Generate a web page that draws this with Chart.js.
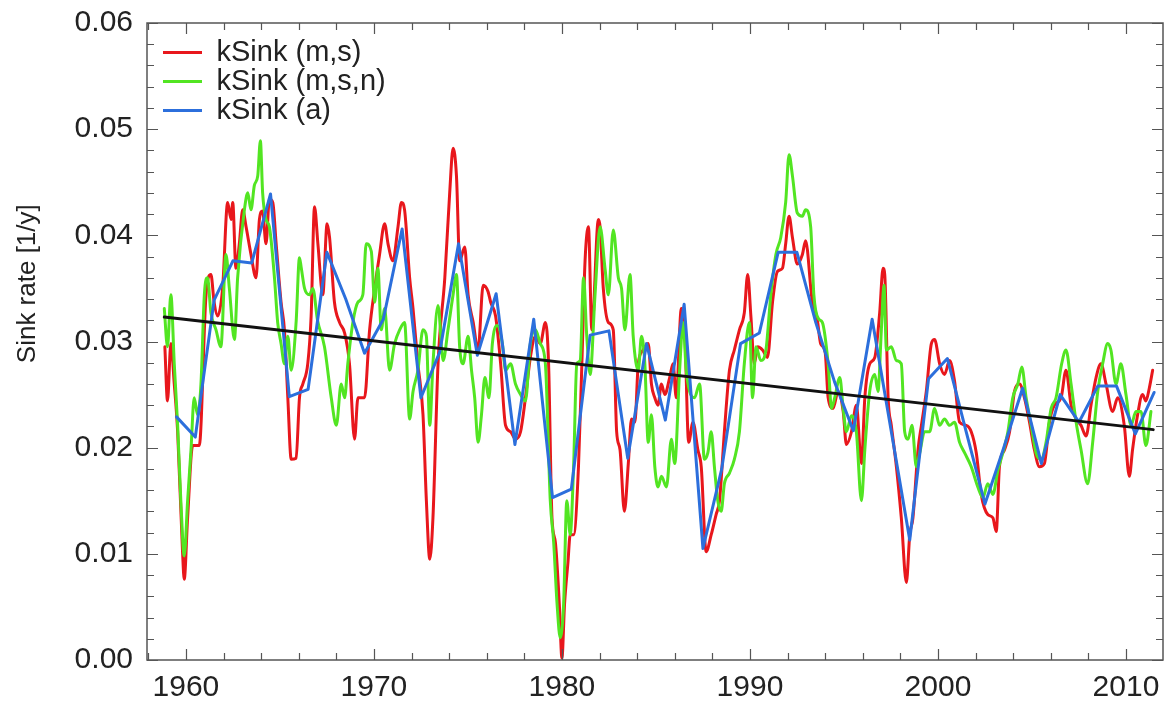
<!DOCTYPE html>
<html lang="en">
<head>
<meta charset="UTF-8">
<title>Sink rate</title>
<script src="https://cdn.jsdelivr.net/npm/chart.js"></script>
<style>
  body { margin: 0; background: #fff; }
  canvas { display: block; }
</style>
</head>
<body>
<canvas id="chart" width="1175" height="703"></canvas>
<script>
// kSink (m,s) - red
var msYears = [1958.88,1959.02,1959.2,1959.38,1959.56,1959.82,1959.91,1960.09,1960.36,1960.71,
  1961.07,1961.33,1961.5,1961.69,1961.95,1962.22,1962.4,1962.49,1962.66,1962.84,1963.02,1963.2,1963.46,1963.73,1963.91,
  1964.08,1964.26,1964.44,1964.62,1964.8,1965.06,1965.24,1965.42,1965.6,1965.86,1966.04,1966.22,1966.48,1966.66,1966.84,
  1967.02,1967.28,1967.51,1967.64,1967.9,1968.17,1968.44,1968.7,1968.97,1969.15,1969.5,1969.77,1970.04,1970.3,1970.57,
  1970.75,1971.01,1971.28,1971.46,1971.63,1971.9,1972.08,1972.34,1972.61,1972.79,1972.97,1973.14,1973.41,1973.77,1974.03,
  1974.21,1974.39,1974.56,1974.83,1975.01,1975.28,1975.54,1975.81,1976.07,1976.21,1976.47,1976.74,1977.0,1977.27,1977.53,
  1977.8,1978.06,1978.32,1978.59,1978.85,1979.12,1979.29,1979.47,1979.65,1979.86,1980.0,1980.14,1980.32,1980.44,1980.62,
  1980.88,1981.06,1981.23,1981.41,1981.59,1981.94,1982.03,1982.2,1982.47,1982.73,1982.91,1983.09,1983.32,1983.53,1983.7,
  1983.88,1984.06,1984.32,1984.59,1984.76,1984.94,1985.11,1985.29,1985.47,1985.73,1985.91,1986.08,1986.35,1986.53,1986.74,
  1986.97,1987.23,1987.41,1987.67,1987.94,1988.2,1988.38,1988.64,1988.91,1989.17,1989.44,1989.7,1989.88,1990.05,1990.23,
  1990.41,1990.67,1990.93,1991.2,1991.46,1991.73,1991.9,1992.08,1992.26,1992.52,1992.79,1992.96,1993.3,1993.58,1993.76,
  1994.0,1994.16,1994.42,1994.69,1994.96,1995.13,1995.4,1995.66,1995.93,1996.11,1996.37,1996.64,1996.9,1997.08,1997.17,
  1997.35,1997.52,1997.79,1998.05,1998.32,1998.5,1998.67,1998.94,1999.12,1999.38,1999.65,1999.82,2000.09,2000.35,2000.62,
  2000.88,2001.15,2001.5,2001.77,2002.04,2002.3,2002.65,2002.92,2003.1,2003.27,2003.54,2003.81,2004.07,2004.34,2004.6,
  2004.87,2005.13,2005.4,2005.66,2005.93,2006.19,2006.55,2006.81,2007.08,2007.35,2007.61,2007.88,2008.14,2008.41,2008.67,
  2008.94,2009.29,2009.56,2009.91,2010.18,2010.35,2010.62,2010.88,2011.06,2011.24,2011.42];
var msValues = [0.0295,0.0244,0.0298,0.026,0.0215,0.0102,0.0076,0.0134,0.0202,0.0202,
  0.0344,0.0363,0.0337,0.0324,0.035,0.0431,0.0415,0.0431,0.0369,0.0392,0.0424,0.0408,0.0382,0.036,0.0415,
  0.0423,0.0392,0.0434,0.0431,0.0392,0.0337,0.0311,0.0247,0.0189,0.019,0.0247,0.026,0.0279,0.0324,0.0427,
  0.0392,0.0344,0.0411,0.0398,0.0337,0.0318,0.0308,0.0279,0.0208,0.0247,0.0247,0.0311,0.035,0.0382,0.0411,
  0.0392,0.0376,0.0408,0.0431,0.0424,0.036,0.0331,0.0279,0.0231,0.015,0.0095,0.0134,0.0279,0.036,0.044,
  0.0482,0.0456,0.0376,0.0389,0.0344,0.0318,0.0292,0.0353,0.0347,0.0337,0.0324,0.0279,0.0221,0.0215,0.0208,
  0.0215,0.0247,0.0285,0.0305,0.0298,0.0318,0.0279,0.0134,0.0111,0.0053,0.0002,0.0053,0.0092,0.0118,0.0118,
  0.0182,0.0279,0.0376,0.0408,0.0311,0.0415,0.0408,0.035,0.0318,0.0311,0.0215,0.0198,0.014,0.0185,0.0227,
  0.0224,0.0279,0.0292,0.0298,0.026,0.0247,0.024,0.026,0.025,0.0266,0.0279,0.0247,0.0331,0.0311,0.0205,
  0.0224,0.0198,0.0182,0.0102,0.0118,0.0137,0.015,0.0215,0.0273,0.0292,0.0311,0.0327,0.0363,0.0324,0.0279,
  0.0295,0.0292,0.0285,0.0337,0.0366,0.0369,0.0392,0.0418,0.0398,0.0373,0.0382,0.0395,0.034,0.0321,0.0298,
  0.029,0.0247,0.0237,0.0253,0.0234,0.0203,0.0215,0.024,0.0185,0.0247,0.0279,0.0285,0.0327,0.0369,0.0363,
  0.0247,0.0221,0.0182,0.0134,0.0073,0.0118,0.0134,0.0198,0.0221,0.0253,0.0298,0.0302,0.0279,0.0269,0.0282,
  0.0263,0.0224,0.0221,0.0215,0.0195,0.0156,0.0137,0.0134,0.0121,0.0182,0.0198,0.0215,0.0253,0.026,0.0247,
  0.0224,0.0198,0.0182,0.0185,0.0224,0.024,0.0247,0.0273,0.024,0.0227,0.0221,0.0211,0.024,0.0266,0.0279,
  0.026,0.0234,0.0247,0.0221,0.0173,0.0198,0.0231,0.025,0.0244,0.0256,0.0273];

// kSink (m,s,n) - green
var msnYears = [1958.85,1959.02,1959.2,1959.38,1959.56,1959.73,1959.91,1960.09,1960.27,1960.44,1960.62,1960.8,1960.98,
  1961.15,1961.33,1961.6,1961.86,1962.13,1962.31,1962.58,1962.75,1963.11,1963.29,1963.46,1963.64,1963.82,1963.96,
  1964.08,1964.26,1964.44,1964.71,1964.88,1965.06,1965.24,1965.42,1965.6,1965.86,1966.04,1966.13,1966.31,1966.57,
  1966.75,1967.0,1967.37,1967.73,1968.0,1968.26,1968.44,1968.61,1968.88,1969.15,1969.41,1969.59,1969.86,1970.04,
  1970.21,1970.39,1970.57,1970.83,1971.1,1971.37,1971.63,1971.9,1972.08,1972.34,1972.61,1972.79,1972.97,1973.14,
  1973.41,1973.68,1973.94,1974.21,1974.39,1974.56,1974.74,1975.01,1975.19,1975.36,1975.54,1975.72,1975.9,1976.12,
  1976.3,1976.56,1976.83,1977.0,1977.27,1977.53,1977.8,1978.06,1978.32,1978.59,1978.85,1979.12,1979.38,1979.56,
  1979.74,1979.91,1980.09,1980.26,1980.44,1980.62,1980.79,1980.97,1981.15,1981.32,1981.5,1981.76,1982.03,1982.29,
  1982.47,1982.73,1983.0,1983.17,1983.35,1983.62,1983.79,1984.06,1984.23,1984.41,1984.59,1984.76,1984.94,1985.11,
  1985.29,1985.56,1985.82,1986.0,1986.26,1986.44,1986.61,1986.79,1987.05,1987.32,1987.58,1987.76,1987.94,1988.11,
  1988.29,1988.47,1988.64,1988.91,1989.17,1989.44,1989.7,1989.97,1990.14,1990.32,1990.58,1990.85,1991.11,1991.38,
  1991.64,1991.9,1992.08,1992.26,1992.52,1992.79,1992.96,1993.23,1993.4,1993.67,1993.85,1994.16,1994.34,1994.51,
  1994.78,1994.96,1995.13,1995.4,1995.66,1995.93,1996.11,1996.37,1996.64,1996.81,1996.99,1997.13,1997.26,1997.52,
  1997.79,1998.05,1998.23,1998.41,1998.62,1998.85,1999.03,1999.29,1999.56,1999.82,2000.09,2000.35,2000.62,2000.88,
  2001.15,2001.42,2001.77,2002.12,2002.39,2002.65,2002.92,2003.19,2003.45,2003.72,2003.98,2004.25,2004.46,2004.69,
  2004.96,2005.22,2005.49,2005.75,2006.02,2006.28,2006.58,2006.81,2007.08,2007.35,2007.61,2007.96,2008.23,2008.5,
  2008.76,2009.03,2009.2,2009.47,2009.73,2010.0,2010.27,2010.53,2010.8,2011.06,2011.33];
var msnValues = [0.0331,0.0295,0.0344,0.0279,0.0221,0.015,0.0098,0.015,0.0198,0.0247,0.0231,0.026,0.0344,
  0.036,0.0327,0.0311,0.0295,0.0382,0.035,0.0302,0.036,0.0424,0.044,0.0424,0.0447,0.0456,0.0489,
  0.044,0.0415,0.0408,0.036,0.0318,0.0298,0.0279,0.0305,0.0273,0.0318,0.0379,0.037,0.035,0.0344,
  0.035,0.032,0.0295,0.0247,0.0221,0.026,0.0247,0.0279,0.0318,0.0337,0.0344,0.0392,0.0385,0.0337,
  0.0369,0.0311,0.0331,0.0273,0.0298,0.0311,0.0318,0.0227,0.0253,0.0273,0.0311,0.0305,0.0221,0.0279,
  0.0334,0.0282,0.0311,0.0344,0.0363,0.0295,0.0279,0.0305,0.0273,0.0247,0.0205,0.0231,0.0266,0.0247,
  0.0298,0.0315,0.0298,0.0273,0.0279,0.026,0.025,0.0244,0.0298,0.0311,0.0298,0.0279,0.015,0.0111,
  0.0053,0.0021,0.0053,0.015,0.0118,0.0182,0.0279,0.0282,0.036,0.0305,0.0269,0.0344,0.0408,0.0369,
  0.0344,0.0405,0.036,0.035,0.0311,0.0363,0.0305,0.0273,0.0305,0.0279,0.0205,0.0231,0.0182,0.0163,
  0.0173,0.0163,0.0208,0.0185,0.0273,0.0318,0.0273,0.0253,0.0247,0.026,0.0189,0.0195,0.0215,0.0182,
  0.015,0.014,0.0166,0.0176,0.0189,0.0215,0.0279,0.0318,0.0247,0.0295,0.0282,0.0292,0.0344,0.0382,
  0.0398,0.0431,0.0476,0.0456,0.0421,0.0418,0.0424,0.0408,0.0344,0.0321,0.0318,0.0279,0.0237,0.0247,
  0.0266,0.0237,0.0215,0.023,0.0215,0.015,0.0198,0.0253,0.0269,0.0253,0.0311,0.0353,0.0292,0.0295,
  0.0282,0.0279,0.0215,0.0208,0.0221,0.0182,0.0195,0.0215,0.0215,0.0237,0.0221,0.0227,0.0221,0.0224,
  0.0205,0.0195,0.0182,0.0163,0.0153,0.0166,0.0156,0.0179,0.0195,0.0215,0.0247,0.026,0.0276,0.0247,
  0.0221,0.0195,0.0189,0.0205,0.0237,0.0247,0.0279,0.0292,0.026,0.0224,0.0198,0.0166,0.0205,0.0253,
  0.0279,0.0298,0.0292,0.026,0.0279,0.025,0.0221,0.0234,0.0234,0.0202,0.0234];

// kSink (a) - blue, annual values at mid-year
var aYears = [1959.5,1960.5,1961.5,1962.5,1963.5,1964.5,1965.5,1966.5,1967.5,1968.5,1969.5,1970.5,1971.5,1972.5,
  1973.5,1974.5,1975.5,1976.5,1977.5,1978.5,1979.5,1980.5,1981.5,1982.5,1983.5,1984.5,1985.5,1986.5,1987.5,
  1988.5,1989.5,1990.5,1991.5,1992.5,1993.5,1994.5,1995.5,1996.5,1997.5,1998.5,1999.5,2000.5,2001.5,2002.5,
  2003.5,2004.5,2005.5,2006.5,2007.5,2008.5,2009.5,2010.5,2011.5];
var aValues = [0.0229,0.021,0.0339,0.0376,0.0374,0.0439,0.0248,0.0255,0.0384,0.034,0.0289,0.0321,0.0406,0.0247,
  0.029,0.0392,0.0287,0.0345,0.0203,0.0321,0.0153,0.0161,0.0306,0.031,0.019,0.0298,0.0226,0.0335,0.0105,
  0.018,0.0298,0.0308,0.0384,0.0384,0.0318,0.0262,0.0216,0.0321,0.0217,0.0113,0.0265,0.0284,0.0215,0.0147,
  0.02,0.0256,0.0185,0.025,0.0224,0.0258,0.0258,0.0213,0.0252];

// linear trend
var trendYears = [1958.85, 2011.45];
var trendValues = [0.0323, 0.0217];

var xMin = 1957.93, xMax = 2011.97;
var xTicks = [];
for (var yr = 1958; yr <= xMax; yr += 2) xTicks.push(yr);
var yTicks = [];
for (var k = 0; k <= 30; k++) yTicks.push(k / 500);

function pts(xs, ys) {
  return xs.map(function (x, i) { return { x: x, y: ys[i] }; });
}

var FONT = "'Liberation Sans', Arial, sans-serif";
var AXIS = '#555';

// frame with inward ticks on all four sides
var framePlugin = {
  id: 'frame',
  afterDraw: function (chart) {
    var ctx = chart.ctx, a = chart.chartArea;
    var xs = chart.scales.x, ys = chart.scales.y;
    ctx.save();
    ctx.strokeStyle = AXIS;
    ctx.lineWidth = 1.5;
    ctx.strokeRect(a.left, a.top, a.right - a.left, a.bottom - a.top);
    ctx.beginPath();
    xTicks.forEach(function (v) {
      var px = Math.round(xs.getPixelForValue(v)) + 0.5;
      var len = v % 10 === 0 ? 11 : 7;
      ctx.moveTo(px, a.bottom); ctx.lineTo(px, a.bottom - len);
      ctx.moveTo(px, a.top); ctx.lineTo(px, a.top + len);
    });
    yTicks.forEach(function (v, i) {
      var py = Math.round(ys.getPixelForValue(v)) + 0.5;
      var len = i % 5 === 0 ? 11 : 7;
      ctx.moveTo(a.left, py); ctx.lineTo(a.left + len, py);
      ctx.moveTo(a.right, py); ctx.lineTo(a.right - len, py);
    });
    ctx.lineWidth = 1.2;
    ctx.stroke();
    ctx.restore();
  }
};

// put the built-in legend in the top-left corner of the plot
var legendShift = {
  id: 'legendShift',
  afterLayout: function (chart) {
    if (chart.legend) {
      chart.legend.left = chart.chartArea.left + 16;
      chart.legend.top = chart.chartArea.top + 15;
    }
  }
};

new Chart(document.getElementById('chart'), {
  type: 'line',
  data: {
    datasets: [
      { label: 'kSink (m,s)', data: pts(msYears, msValues), borderColor: '#e8171c', backgroundColor: '#e8171c',
        borderWidth: 3, cubicInterpolationMode: 'monotone', order: 4 },
      { label: 'kSink (m,s,n)', data: pts(msnYears, msnValues), borderColor: '#52e522', backgroundColor: '#52e522',
        borderWidth: 3, cubicInterpolationMode: 'monotone', order: 3 },
      { label: 'kSink (a)', data: pts(aYears, aValues), borderColor: '#2c6fdc', backgroundColor: '#2c6fdc',
        borderWidth: 3, tension: 0, order: 2 },
      { label: 'trend', data: pts(trendYears, trendValues), borderColor: '#111', backgroundColor: '#111',
        borderWidth: 3, tension: 0, order: 1 }
    ]
  },
  options: {
    responsive: false,
    animation: false,
    devicePixelRatio: 1,
    layout: { padding: { top: 23, right: 12, left: 0, bottom: 0 } },
    elements: { point: { radius: 0 }, line: { borderJoinStyle: 'round', borderCapStyle: 'round' } },
    plugins: {
      tooltip: { enabled: false },
      legend: {
        position: 'chartArea',
        align: 'start',
        labels: {
          boxWidth: 39,
          boxHeight: 3,
          padding: 0,
          color: '#222',
          font: { family: FONT, size: 29 },
          filter: function (item) { return item.text !== 'trend'; },
          sort: function (a, b) { return a.datasetIndex - b.datasetIndex; },
          generateLabels: function (chart) {
            return Chart.defaults.plugins.legend.labels.generateLabels(chart).map(function (l) {
              l.lineWidth = 0;
              return l;
            });
          }
        }
      }
    },
    scales: {
      x: {
        type: 'linear',
        min: xMin,
        max: xMax,
        afterBuildTicks: function (s) { s.ticks = xTicks.map(function (v) { return { value: v }; }); },
        afterFit: function (s) { s.height = 43; },
        grid: { display: false, drawTicks: false },
        border: { display: false },
        ticks: {
          autoSkip: false, maxRotation: 0, padding: 10, color: '#222',
          font: { family: FONT, size: 30 },
          callback: function (v) { return v % 10 === 0 ? String(v) : ''; }
        }
      },
      y: {
        min: 0,
        max: 0.06,
        afterBuildTicks: function (s) { s.ticks = yTicks.map(function (v) { return { value: v }; }); },
        afterFit: function (s) { s.width = 147; },
        grid: { display: false, drawTicks: false },
        border: { display: false },
        title: {
          display: true, text: '                Sink rate [1/y]', color: '#222',
          font: { family: FONT, size: 26 }, padding: { top: 12, bottom: 0 }
        },
        ticks: {
          autoSkip: false, padding: 14, color: '#222',
          font: { family: FONT, size: 30, lineHeight: 0.5 },
          callback: function (v) {
            var h = v * 100;
            return Math.abs(h - Math.round(h)) < 1e-6 ? v.toFixed(2) : '';
          }
        }
      }
    }
  },
  plugins: [framePlugin, legendShift]
});
</script>
</body>
</html>
